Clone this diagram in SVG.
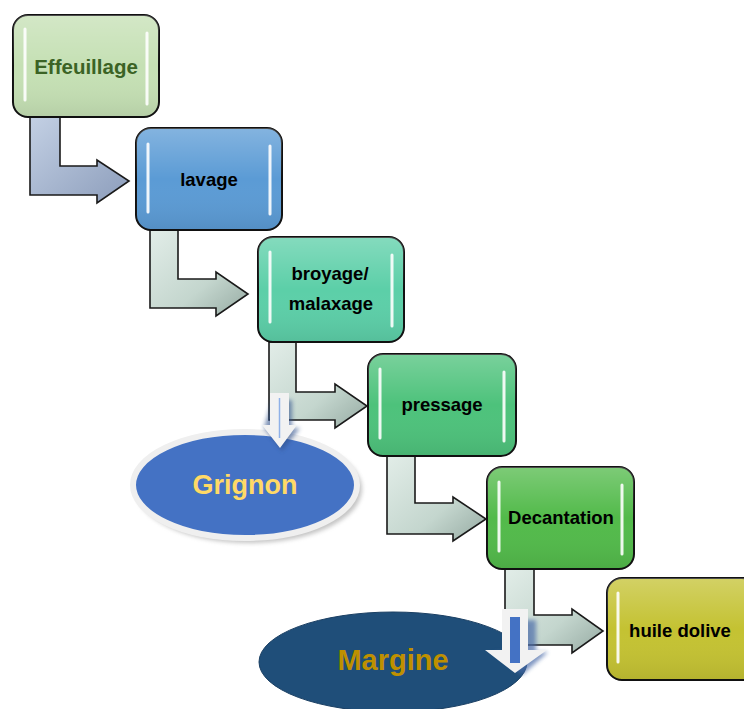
<svg xmlns="http://www.w3.org/2000/svg" width="744" height="709" viewBox="0 0 744 709">
<defs>
<linearGradient id="gA1" x1="0" y1="0" x2="1" y2="1"><stop offset="0" stop-color="#c3d0e4"/><stop offset="1" stop-color="#8c9dbb"/></linearGradient>
<linearGradient id="gA" x1="0" y1="0" x2="1" y2="1"><stop offset="0" stop-color="#e2ede8"/><stop offset="0.6" stop-color="#c4d6ce"/><stop offset="1" stop-color="#95aaa2"/></linearGradient>
<linearGradient id="shade" x1="0" y1="0" x2="0" y2="1"><stop offset="0" stop-color="#fff" stop-opacity="0.25"/><stop offset="0.5" stop-color="#fff" stop-opacity="0"/><stop offset="1" stop-color="#000" stop-opacity="0.08"/></linearGradient>
<filter id="glow" x="-3" y="-0.2" width="7" height="1.4"><feGaussianBlur stdDeviation="1.2"/></filter>
<filter id="sh" x="-0.2" y="-0.2" width="1.4" height="1.4"><feGaussianBlur stdDeviation="2"/></filter>
</defs>
<style>
.box{stroke:#111;stroke-width:2}
.hl{stroke:#fff;stroke-width:3;stroke-linecap:round;opacity:0.9}
.lbl{font-family:"Liberation Sans",Arial,sans-serif;font-weight:bold;font-size:18.5px;fill:#000;text-anchor:middle}
.arr{stroke:#1a1a1a;stroke-width:1.6;stroke-linejoin:miter}
.big{font-family:"Liberation Sans",Arial,sans-serif;font-weight:bold;font-size:27px;text-anchor:middle}
</style>
<rect width="744" height="709" fill="#fff"/>

<g id="connectors">
<path class="arr" fill="url(#gA1)" d="M30,117 L60,117 L60,166 L97,166 L97,160 L129,181 L97,203 L97,195 L30,195 Z"/>
<path class="arr" fill="url(#gA)" d="M150,230 L178,230 L178,279 L216,279 L216,272 L248,294 L216,316 L216,308 L150,308 Z"/>
<path class="arr" fill="url(#gA)" d="M269,342 L296,342 L296,392 L335,392 L335,384 L367,406 L335,428 L335,420 L269,420 Z"/>
<path class="arr" fill="url(#gA)" d="M387,456 L415,456 L415,503 L453,503 L453,497 L486,519 L453,541 L453,534 L387,534 Z"/>
<path class="arr" fill="url(#gA)" d="M505,569 L534,569 L534,615 L572,615 L572,609 L603,631 L572,653 L572,645 L505,645 Z"/>
</g>

<g id="grignon">
<ellipse cx="249" cy="489" rx="113" ry="54" fill="#8a8a8a" opacity="0.5" filter="url(#sh)"/>
<ellipse cx="245" cy="485" rx="112" ry="53" fill="#4472c4" stroke="#efefef" stroke-width="6"/>
<text class="big" x="245" y="494" fill="#ffd966">Grignon</text>
</g>
<g id="grignon-arrow">
<path d="M272,400 L292,400 L292,428 L300,428 L282,451 L264,428 Z" fill="#2f4f8a" opacity="0.6" filter="url(#sh)"/>
<path d="M270,393 L289,393 L289,425 L297,425 L280,448 L262,425 L270,425 Z" fill="#f2f2f2"/>
<line x1="279.5" y1="398" x2="279.5" y2="438" stroke="#8fb1e8" stroke-width="1.5"/>
</g>

<g id="margine">
<ellipse cx="393" cy="662" rx="134" ry="50" fill="#1f4e79" stroke="#1a3f63" stroke-width="1"/>
<text class="big" x="393" y="670" fill="#bf9000" style="font-size:29px">Margine</text>
</g>
<g id="margine-arrow">
<path d="M512,620 L536,620 L536,652 L548,652 L522,675 L494,652 L512,652 Z" fill="#4a6aa8" opacity="0.7" filter="url(#sh)"/>
<path d="M502,609 L528,609 L528,650 L547,650 L515,673 L485,650 L502,650 Z" fill="#f2f2f2"/>
<rect x="510" y="617" width="10" height="46" fill="#4472c4"/>
</g>

<g id="n1">
<rect class="box" x="13" y="15" width="146" height="102" rx="15" fill="#c5e0b4"/>
<rect x="13" y="15" width="146" height="102" rx="15" fill="url(#shade)"/>
<line class="hl" x1="25" y1="29" x2="25" y2="100" filter="url(#glow)"/><line class="hl" x1="147" y1="33" x2="147" y2="104" filter="url(#glow)"/>
<line class="hl" x1="25" y1="29" x2="25" y2="100" stroke-width="1.5"/><line class="hl" x1="147" y1="33" x2="147" y2="104" stroke-width="1.5"/>
<text class="lbl" x="86" y="74" style="fill:#3b6325;font-size:20.5px">Effeuillage</text>
</g>

<g id="n2">
<rect class="box" x="136" y="128" width="146" height="102" rx="15" fill="#5b9bd5"/>
<rect x="136" y="128" width="146" height="102" rx="15" fill="url(#shade)"/>
<line class="hl" x1="148" y1="144" x2="148" y2="212" filter="url(#glow)"/><line class="hl" x1="270" y1="146" x2="270" y2="214" filter="url(#glow)"/>
<line class="hl" x1="148" y1="144" x2="148" y2="212" stroke-width="1.5"/><line class="hl" x1="270" y1="146" x2="270" y2="214" stroke-width="1.5"/>
<text class="lbl" x="209" y="186">lavage</text>
</g>

<g id="n3">
<rect class="box" x="258" y="237" width="146" height="105" rx="15" fill="#5ccfa8"/>
<rect x="258" y="237" width="146" height="105" rx="15" fill="url(#shade)"/>
<line class="hl" x1="270" y1="252" x2="270" y2="322" filter="url(#glow)"/><line class="hl" x1="392" y1="255" x2="392" y2="326" filter="url(#glow)"/>
<line class="hl" x1="270" y1="252" x2="270" y2="322" stroke-width="1.5"/><line class="hl" x1="392" y1="255" x2="392" y2="326" stroke-width="1.5"/>
<text class="lbl" x="330" y="280">broyage/</text>
<text class="lbl" x="331" y="310">malaxage</text>
</g>

<g id="n4">
<rect class="box" x="368" y="354" width="148" height="102" rx="15" fill="#4dc27b"/>
<rect x="368" y="354" width="148" height="102" rx="15" fill="url(#shade)"/>
<line class="hl" x1="380" y1="369" x2="380" y2="438" filter="url(#glow)"/><line class="hl" x1="504" y1="372" x2="504" y2="441" filter="url(#glow)"/>
<line class="hl" x1="380" y1="369" x2="380" y2="438" stroke-width="1.5"/><line class="hl" x1="504" y1="372" x2="504" y2="441" stroke-width="1.5"/>
<text class="lbl" x="442" y="411">pressage</text>
</g>

<g id="n5">
<rect class="box" x="487" y="467" width="147" height="102" rx="15" fill="#52ba4a"/>
<rect x="487" y="467" width="147" height="102" rx="15" fill="url(#shade)"/>
<line class="hl" x1="499" y1="482" x2="499" y2="551" filter="url(#glow)"/><line class="hl" x1="622" y1="485" x2="622" y2="554" filter="url(#glow)"/>
<line class="hl" x1="499" y1="482" x2="499" y2="551" stroke-width="1.5"/><line class="hl" x1="622" y1="485" x2="622" y2="554" stroke-width="1.5"/>
<text class="lbl" x="561" y="524">Decantation</text>
</g>

<g id="n6">
<rect class="box" x="607" y="578" width="150" height="102" rx="15" fill="#c4c232"/>
<rect x="607" y="578" width="150" height="102" rx="15" fill="url(#shade)"/>
<line class="hl" x1="618" y1="593" x2="618" y2="662" filter="url(#glow)" style="stroke:#fdfd9a"/>
<line class="hl" x1="618" y1="593" x2="618" y2="662" stroke-width="1.5"/>
<text class="lbl" x="680" y="637">huile dolive</text>
</g>
</svg>
